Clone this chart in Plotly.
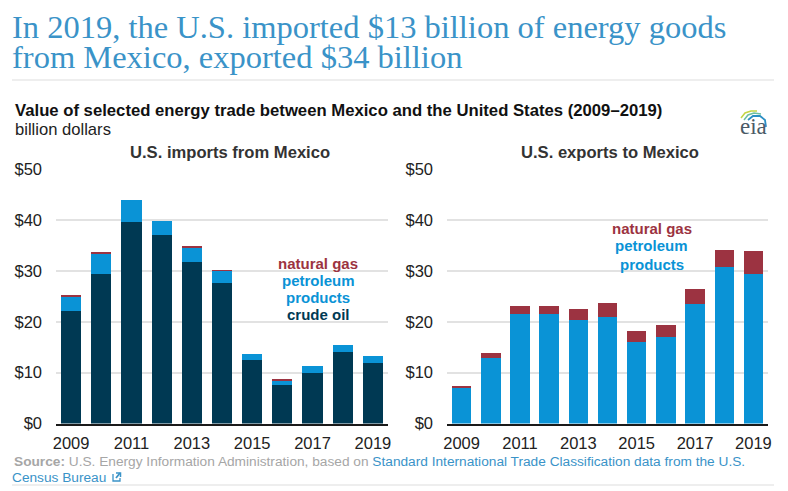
import plotly.graph_objects as go

W, H = 788, 491
YEARS = ["2009", "2010", "2011", "2012", "2013", "2014", "2015", "2016", "2017", "2018", "2019"]
IMP_CRUDE = [22.2, 29.5, 39.6, 37.2, 31.8, 27.7, 12.5, 7.6, 9.9, 14.1, 11.9]
IMP_PRODUCTS = [2.9, 4.0, 4.3, 2.6, 3.0, 2.5, 1.1, 0.9, 1.4, 1.45, 1.3]
IMP_GAS = [0.2, 0.2, 0, 0, 0.1, 0.1, 0, 0.2, 0, 0, 0]
EXP_PRODUCTS = [7.1, 12.9, 21.5, 21.65, 20.4, 20.9, 16.1, 17.1, 23.6, 30.9, 29.5]
EXP_GAS = [0.3, 1.0, 1.7, 1.55, 2.2, 2.85, 2.2, 2.2, 2.8, 3.2, 4.4]
YTICKS = [0, 10, 20, 30, 40, 50]
YTICK_TEXT = ["$0", "$10", "$20", "$30", "$40", "$50"]
XTICKS = ["2009", "2011", "2013", "2015", "2017", "2019"]

NAVY, BLUE, RED = "#003953", "#0a93d6", "#9c3341"
TITLE_BLUE = "#3a93c8"
SANS = "Liberation Sans, Arial, sans-serif"
SERIF = "Liberation Serif, Times New Roman, serif"


def px(x):
    return x / W


def py(y):
    return 1 - y / H


fig = go.Figure()
for name, vals, col in [("crude oil", IMP_CRUDE, NAVY), ("petroleum products", IMP_PRODUCTS, BLUE), ("natural gas", IMP_GAS, RED)]:
    fig.add_bar(x=YEARS, y=vals, name=name, marker=dict(color=col, line_width=0), xaxis="x", yaxis="y")
for name, vals, col in [("petroleum products", EXP_PRODUCTS, BLUE), ("natural gas", EXP_GAS, RED)]:
    fig.add_bar(x=YEARS, y=vals, name=name, marker=dict(color=col, line_width=0), xaxis="x2", yaxis="y2")

yaxis_common = dict(range=[0, 50], tickvals=YTICKS, ticktext=YTICK_TEXT, showgrid=True, gridcolor="#e2e2e2", gridwidth=2,
                    zeroline=False, showline=False, ticks="", automargin=False,
                    tickfont=dict(family=SANS, size=16.5, color="#222222"), ticklabelstandoff=13)
xaxis_common = dict(type="category", categoryorder="array", categoryarray=YEARS, range=[-0.5, 10.5], tickvals=XTICKS, ticktext=XTICKS,
                    showgrid=False, showline=True, linecolor="#1a1a1a", linewidth=2, ticks="", automargin=False,
                    tickfont=dict(family=SANS, size=16.5, color="#222222"), ticklabelstandoff=4)

fig.update_layout(
    width=W, height=H, margin=dict(l=0, r=0, t=0, b=0), autosize=False,
    paper_bgcolor="white", plot_bgcolor="white", barmode="stack", bargap=1 / 3, showlegend=False,
    xaxis=dict(domain=[px(56), px(388)], anchor="y", **xaxis_common),
    yaxis=dict(domain=[py(423.5), py(169.5)], anchor="x", **yaxis_common),
    xaxis2=dict(domain=[px(447), px(768)], anchor="y2", **xaxis_common),
    yaxis2=dict(domain=[py(423.5), py(169.5)], anchor="x2", **yaxis_common),
)


def note(x, y, text, size, color, family=SANS, anchor="left", bold=False):
    fig.add_annotation(xref="paper", yref="paper", x=px(x), y=py(y), text=f"<b>{text}</b>" if bold else text,
                       showarrow=False, xanchor=anchor, yanchor="middle", align=anchor,
                       font=dict(family=family, size=size, color=color), borderpad=0, borderwidth=0)


note(12, 27, "In 2019, the U.S. imported $13 billion of energy goods", 32.5, TITLE_BLUE, SERIF)
note(12, 57, "from Mexico, exported $34 billion", 32.5, TITLE_BLUE, SERIF)
note(15, 110, "Value of selected energy trade between Mexico and the United States (2009–2019)", 16.7, "#111111", bold=True)
note(15, 129, "billion dollars", 16.6, "#222222")
note(230, 152, "U.S. imports from Mexico", 16.6, "#333333", anchor="center", bold=True)
note(610, 152, "U.S. exports to Mexico", 16.6, "#333333", anchor="center", bold=True)

for y, t, c in [(264, "natural gas", RED), (281, "petroleum", BLUE), (298, "products", BLUE), (315, "crude oil", NAVY)]:
    note(318, y - 0.5, t, 15, c, anchor="center", bold=True)
for y, t, c in [(230, "natural gas", RED), (247, "petroleum", BLUE), (265, "products", BLUE)]:
    note(651.5, y - 1, t, 15, c, anchor="center", bold=True)

fig.add_annotation(xref="paper", yref="paper", x=px(12), y=py(461.5), xanchor="left", yanchor="middle", align="left", showarrow=False,
                   text='<b style="color:#a6a6a6">Source:</b> U.S. Energy Information Administration, based on '
                        f'<span style="color:{TITLE_BLUE}">Standard International Trade Classification data from the U.S.</span>',
                   font=dict(family=SANS, size=13.7, color="#a6a6a6"))
note(12, 477, "Census Bureau", 13.7, TITLE_BLUE)

# logo wordmark
note(753, 126, "eia", 23, "#4a5a66", SERIF, anchor="center")

shapes = [
    dict(type="line", xref="paper", yref="paper", x0=px(12), x1=px(774), y0=py(80), y1=py(80), line=dict(color="#dddddd", width=1)),
    dict(type="line", xref="paper", yref="paper", x0=px(12), x1=px(774), y0=py(485), y1=py(485), line=dict(color="#dddddd", width=1)),
]


def path(d_points, color, width):
    d = "M" + " L".join(f"{px(x):.5f},{py(y):.5f}" for x, y in d_points)
    shapes.append(dict(type="path", xref="paper", yref="paper", path=d, line=dict(color=color, width=width)))


# external-link glyph
path([(113, 474), (113, 481), (120, 481), (120, 478)], TITLE_BLUE, 1.3)
path([(116, 478), (120, 473)], TITLE_BLUE, 1.8)
path([(116, 473), (120.5, 473), (120.5, 477)], TITLE_BLUE, 1.5)
# logo arcs
path([(741, 118), (745, 113), (751, 111), (757, 111)], "#c4d545", 1.5)
path([(744, 120), (748, 115), (754, 113), (761, 114)], "#6fc0a0", 1.5)
path([(748, 120), (753, 116), (760, 116), (765, 120), (766, 127)], "#2b8fc4", 1.8)
fig.update_layout(shapes=shapes)

fig.write_html("out.html", config=dict(displayModeBar=False),
               post_script="document.body.style.margin='0';document.body.style.overflow='hidden';")
